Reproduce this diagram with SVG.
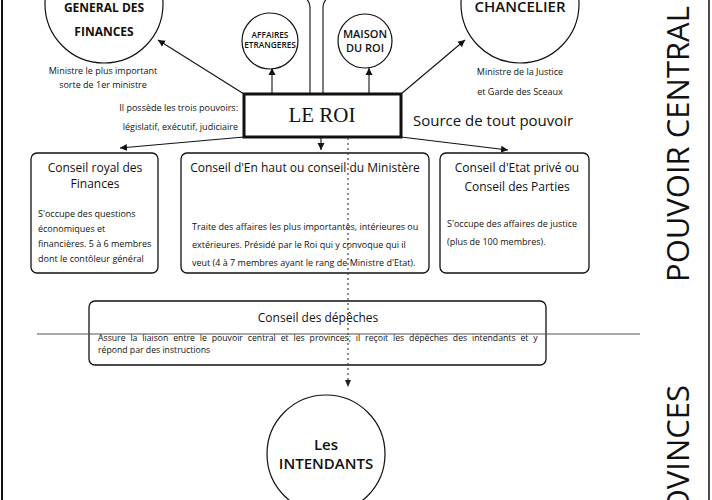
<svg xmlns="http://www.w3.org/2000/svg" width="712" height="500" viewBox="0 0 712 500">
<style>
text{font-family:"Open Sans","Noto Sans",sans-serif;fill:#111}
.c{fill:#fff;stroke:#111;stroke-width:1.2}
.box{fill:#fff;stroke:#111;stroke-width:1.3}
.t{font-size:12px;text-anchor:middle}
.b{font-size:9px}
.sm{font-size:9px;text-anchor:middle}
.ln{stroke:#111;stroke-width:1.1;fill:none}
</style>
<defs>
<marker id="ah" markerWidth="8" markerHeight="8" refX="7" refY="4" orient="auto" markerUnits="userSpaceOnUse">
<path d="M0,0.5 L7,4 L0,7.5 Z" fill="#111"/>
</marker>
</defs>
<rect x="0" y="0" width="712" height="500" fill="#fff"/>
<line x1="2" y1="0" x2="2" y2="500" stroke="#111" stroke-width="2"/>
<line x1="709" y1="0" x2="709" y2="500" stroke="#111" stroke-width="1.5"/>

<g id="connectors">
<path class="ln" d="M244,94 L158,40" marker-end="url(#ah)"/>
<path class="ln" d="M401,94 L465,40" marker-end="url(#ah)"/>
<path class="ln" d="M244,137 L120,148" marker-end="url(#ah)"/>
<path class="ln" d="M401,137 L508,150" marker-end="url(#ah)"/>
<path class="ln" d="M272,94 L272,68" marker-end="url(#ah)"/>
<path class="ln" d="M369,94 L369,68" marker-end="url(#ah)"/>
<path class="ln" d="M321,137 L321,150" marker-end="url(#ah)"/>
<path class="ln" d="M310,94 V7 Q310,1 304,-3"/>
<path class="ln" d="M323,94 V7 Q323,1 329,-3"/>
</g>

<g id="controleur">
<circle class="c" cx="104" cy="4" r="59"/>
<text x="104" y="11.5" font-size="12" font-weight="bold" text-anchor="middle">GENERAL DES</text>
<text x="104" y="36" font-size="12" font-weight="bold" text-anchor="middle">FINANCES</text>
<text class="sm" x="103" y="74">Ministre le plus important</text>
<text class="sm" x="103" y="88">sorte de 1er ministre</text>
</g>

<g id="affaires">
<circle class="c" cx="270" cy="41" r="28"/>
<text x="270" y="38" font-size="8.3" font-weight="600" text-anchor="middle">AFFAIRES</text>
<text x="270" y="48" font-size="8.3" font-weight="600" text-anchor="middle">ETRANGERES</text>
</g>

<g id="maison">
<circle class="c" cx="365" cy="41" r="27"/>
<text x="365" y="38" font-size="11" font-weight="600" text-anchor="middle">MAISON</text>
<text x="365" y="52" font-size="11" font-weight="600" text-anchor="middle">DU ROI</text>
</g>

<g id="chancelier">
<circle class="c" cx="520" cy="4" r="59"/>
<text x="520" y="11.5" font-size="15" font-weight="600" text-anchor="middle">CHANCELIER</text>
<text class="sm" x="520" y="75">Ministre de la Justice</text>
<text class="sm" x="520" y="95">et Garde des Sceaux</text>
</g>

<g id="roi">
<rect x="244" y="94" width="157" height="43" fill="#fff" stroke="#111" stroke-width="3"/>
<text x="322" y="122" font-size="21" text-anchor="middle" style="font-family:'Liberation Serif',serif">LE ROI</text>
<text x="238" y="111" font-size="9" text-anchor="end">Il possède les trois pouvoirs:</text>
<text x="238" y="130" font-size="9" text-anchor="end">législatif, exécutif, judiciaire</text>
<text x="413" y="126" font-size="15" font-weight="500">Source de tout pouvoir</text>
</g>

<g id="conseil-finances">
<rect class="box" x="31" y="153" width="127" height="120" rx="6"/>
<text class="t" x="95" y="172">Conseil royal des</text>
<text class="t" x="95" y="188">Finances</text>
<text class="b" x="38" y="217">S'occupe des questions</text>
<text class="b" x="38" y="232">économiques et</text>
<text class="b" x="38" y="247">financières. 5 à 6 membres</text>
<text class="b" x="38" y="262">dont le contôleur général</text>
</g>

<g id="conseil-en-haut">
<rect class="box" x="181" y="153" width="248" height="120" rx="6"/>
<text class="t" x="305" y="172">Conseil d'En haut ou conseil du Ministère</text>
<text class="b" x="192" y="230">Traite des affaires les plus importantes, intérieures ou</text>
<text class="b" x="192" y="248">extérieures. Présidé par le Roi qui y convoque qui il</text>
<text class="b" x="192" y="266">veut (4 à 7 membres ayant le rang de Ministre d'Etat).</text>
</g>

<g id="conseil-etat">
<rect class="box" x="440" y="153" width="149" height="120" rx="6"/>
<text class="t" x="517" y="172">Conseil d'Etat privé ou</text>
<text class="t" x="517" y="191">Conseil des Parties</text>
<text class="b" x="447" y="227">S'occupe des affaires de justice</text>
<text class="b" x="447" y="245">(plus de 100 membres).</text>
</g>

<g id="conseil-depeches">
<rect class="box" x="89" y="301" width="457" height="64" rx="6"/>
<text class="t" x="318" y="322">Conseil des dépêches</text>
<text x="98" y="341" font-size="8.7" word-spacing="2.6">Assure la liaison entre le pouvoir central et les provinces; il reçoit les dépêches des intendants et y</text>
<text x="98" y="353" font-size="8.7">répond par des instructions</text>
</g>

<line x1="37" y1="334" x2="640" y2="334" stroke="#555" stroke-width="1"/>

<g id="dotted">
<path d="M348,138 L348,380" stroke="#333" stroke-width="1.1" stroke-dasharray="2,3" fill="none"/>
<path d="M345,380 L351,380 L348,387 Z" fill="#222"/>
</g>

<g id="intendants">
<circle class="c" cx="326" cy="454" r="59"/>
<text x="326" y="450" font-size="15" font-weight="600" text-anchor="middle">Les</text>
<text x="326" y="469" font-size="15" font-weight="600" text-anchor="middle">INTENDANTS</text>
</g>

<text transform="translate(689,282) rotate(-90)" font-size="31">POUVOIR CENTRAL</text>
<text transform="translate(689,385) rotate(-90)" font-size="31" text-anchor="end">PROVINCES</text>
</svg>
